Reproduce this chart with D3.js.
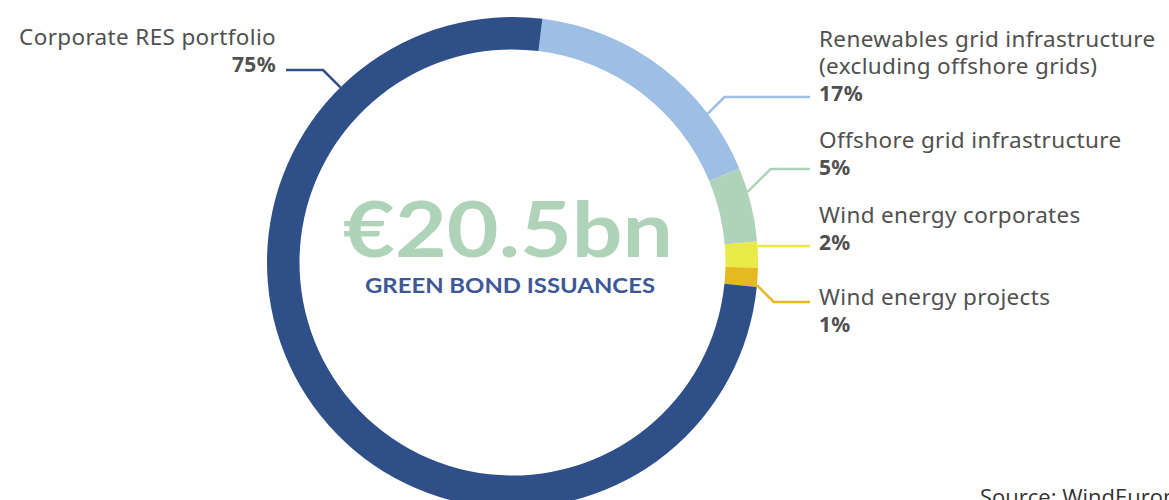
<!DOCTYPE html>
<html>
<head>
<meta charset="utf-8">
<script src="https://cdn.jsdelivr.net/npm/d3@7"></script>
<style>
  body { margin: 0; background: #fff; }
  svg { display: block; }
</style>
</head>
<body>
<div id="chart"></div>
<script>
// segments, clockwise from just right of 12 o'clock
var categories = ["Renewables grid infrastructure", "Offshore grid infrastructure", "Wind energy corporates", "Wind energy projects", "Corporate RES portfolio"];
var labelLines = [
    ["Renewables grid infrastructure", "(excluding offshore grids)"],
    ["Offshore grid infrastructure"],
    ["Wind energy corporates"],
    ["Wind energy projects"],
    ["Corporate RES portfolio"]
];
var pctLabels = ["17%", "5%", "2%", "1%", "75%"];
// arc shares as measured on the ring
var shares = [16.8, 4.9, 1.7, 1.25, 75.35];
var colors = ["#9ebfe4", "#afd3b8", "#e9ea45", "#e5b920", "#2f4f88"];
// where each leader line leaves the ring (degrees clockwise from top) and its label row
var anchorDeg = [52.7, 73.3, 86.1, 95.3, -44.5];
var lineY = [97, 169, 246, 302, 70];
var textY = [47, 148, 223, 305, 45];

var width = 1169, height = 500;
var cx = 512.5, cy = 262.5;
var outerR = 245.5, innerR = 213;
var startDeg = 7;

var svg = d3.select("#chart")
    .append("svg")
    .attr("width", width)
    .attr("height", height);

var g = svg.append("g")
    .attr("transform", "translate(" + cx + "," + cy + ")");

var pie = d3.pie()
    .sort(null)
    .value(function(d) { return d; })
    .startAngle(startDeg * Math.PI / 180)
    .endAngle((startDeg + 360) * Math.PI / 180);

var arc = d3.arc()
    .innerRadius(innerR)
    .outerRadius(outerR);

g.selectAll("path.slice")
    .data(pie(shares))
    .enter()
    .append("path")
    .attr("class", "slice")
    .attr("d", arc)
    .style("fill", function(d, i) { return colors[i]; });

// leader lines + labels
var labelXRight = 810, labelXLeft = 286;
categories.forEach(function(c, i) {
    var a = anchorDeg[i] * Math.PI / 180;
    var ax = cx + outerR * Math.sin(a);
    var ay = cy - outerR * Math.cos(a);
    var right = Math.sin(a) > 0;
    var dy = Math.abs(lineY[i] - ay);
    var ex = right ? ax + dy : ax - dy;
    var endX = right ? labelXRight : labelXLeft;
    svg.append("path")
        .attr("d", d3.line()([[ax, ay], [ex, lineY[i]], [endX, lineY[i]]]))
        .style("fill", "none")
        .style("stroke", colors[i])
        .style("stroke-width", 2.5);

    var tx = right ? 819 : 276;
    var anchor = right ? "start" : "end";
    var t = svg.append("text")
        .attr("x", tx)
        .attr("y", textY[i])
        .attr("text-anchor", anchor)
        .style("font-family", "'Noto Sans', sans-serif")
        .style("font-size", "22.5px")
        .style("letter-spacing", "0.35px")
        .style("fill", "#505050");
    labelLines[i].forEach(function(line, k) {
        t.append("tspan")
            .attr("x", tx)
            .attr("dy", k === 0 ? 0 : 26.5)
            .text(line);
    });
    t.append("tspan")
        .attr("x", tx)
        .attr("dy", 27)
        .style("font-weight", "bold")
        .style("font-size", "21px")
        .text(pctLabels[i]);
});

// centre text
svg.append("text")
    .attr("x", 508)
    .attr("y", 257)
    .attr("text-anchor", "middle")
    .attr("textLength", 330)
    .attr("lengthAdjust", "spacingAndGlyphs")
    .style("font-family", "Lato, sans-serif")
    .style("font-weight", "bold")
    .style("font-size", "76px")
    .style("fill", "#afd3b8")
    .text("€20.5bn");

svg.append("text")
    .attr("x", 510)
    .attr("y", 293)
    .attr("text-anchor", "middle")
    .attr("textLength", 290)
    .attr("lengthAdjust", "spacingAndGlyphs")
    .style("font-family", "Lato, sans-serif")
    .style("font-weight", "bold")
    .style("font-size", "21px")
    .style("fill", "#3d5797")
    .text("GREEN BOND ISSUANCES");

svg.append("text")
    .attr("x", 980)
    .attr("y", 505)
    .style("font-family", "'Open Sans', sans-serif")
    .style("font-size", "22px")
    .style("fill", "#333")
    .text("Source: WindEurope");
</script>
</body>
</html>
